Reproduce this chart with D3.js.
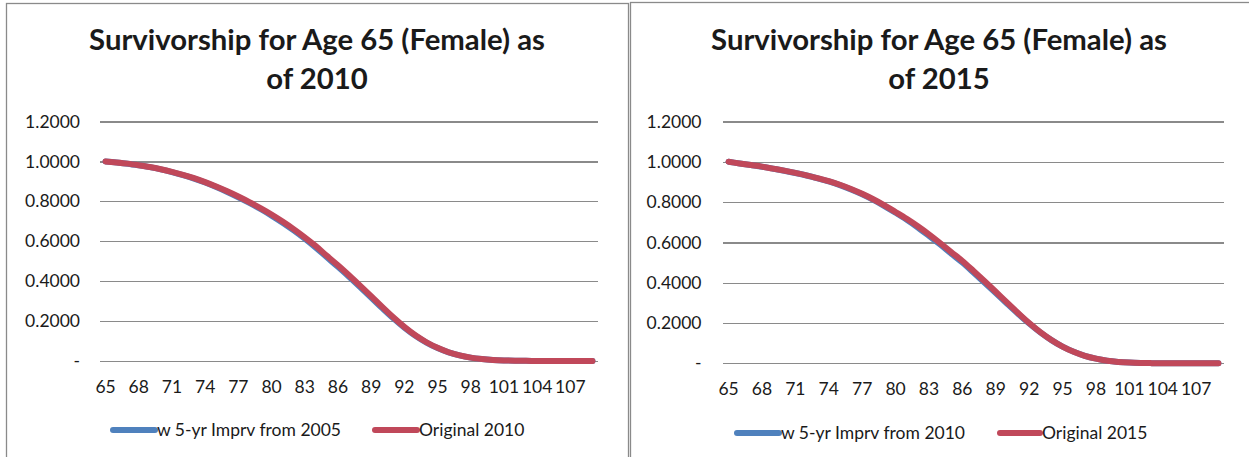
<!DOCTYPE html>
<html>
<head>
<meta charset="utf-8">
<script src="https://cdn.jsdelivr.net/npm/d3@7"></script>
<style>
  html, body { margin: 0; padding: 0; background: #fff; }
  svg { display: block; }
  text { font-family: Lato, "Noto Sans", sans-serif; fill: #1a1a1a; }
</style>
</head>
<body>
<svg id="chart" width="1249" height="457"></svg>
<script>
// Ages on the category axis
const ages = [65, 66, 67, 68, 69, 70, 71, 72, 73, 74, 75, 76, 77, 78, 79, 80, 81, 82, 83, 84, 85, 86, 87,
              88, 89, 90, 91, 92, 93, 94, 95, 96, 97, 98, 99, 100, 101, 102, 103, 104, 105, 106, 107, 108, 109];

// Labelled ages (every third category)
const xTickAges = [65, 68, 71, 74, 77, 80, 83, 86, 89, 92, 95, 98, 101, 104, 107];

// Value axis ticks and their labels
const yTicks = [0, 0.2, 0.4, 0.6, 0.8, 1.0, 1.2];
const yTickLabels = ["-", "0.2000", "0.4000", "0.6000", "0.8000", "1.0000", "1.2000"];

// Survivorship from age 65, female, as of 2010
const imprvFrom2005 = [1.0000, 0.9950, 0.9888, 0.9805, 0.9712, 0.9600, 0.9468, 0.9315, 0.9142, 0.8940, 0.8715,
                       0.8470, 0.8205, 0.7920, 0.7615, 0.7285, 0.6930, 0.6545, 0.6130, 0.5680, 0.5195, 0.4720,
                       0.4220, 0.3705, 0.3180, 0.2650, 0.2140, 0.1675, 0.1265, 0.0925, 0.0650, 0.0435, 0.0280,
                       0.0170, 0.0100, 0.0055, 0.0029, 0.0014, 0.0007, 0.0003, 0.0001, 0.0001, 0.0000, 0.0000, 0.0000];
const original2010  = [1.0000, 0.9950, 0.9890, 0.9810, 0.9720, 0.9610, 0.9480, 0.9330, 0.9160, 0.8960, 0.8740,
                       0.8500, 0.8240, 0.7960, 0.7660, 0.7340, 0.6990, 0.6610, 0.6200, 0.5760, 0.5270, 0.4800,
                       0.4300, 0.3780, 0.3250, 0.2710, 0.2190, 0.1710, 0.1290, 0.0940, 0.0660, 0.0440, 0.0280,
                       0.0170, 0.0100, 0.0055, 0.0029, 0.0014, 0.0007, 0.0003, 0.0001, 0.0001, 0.0000, 0.0000, 0.0000];

// Survivorship from age 65, female, as of 2015
const imprvFrom2010 = [1.0000, 0.9920, 0.9840, 0.9758, 0.9658, 0.9555, 0.9443, 0.9320, 0.9180, 0.9025, 0.8840,
                       0.8625, 0.8385, 0.8110, 0.7805, 0.7470, 0.7120, 0.6740, 0.6325, 0.5895, 0.5445, 0.5000,
                       0.4505, 0.4000, 0.3490, 0.2970, 0.2460, 0.1975, 0.1535, 0.1150, 0.0825, 0.0570, 0.0370,
                       0.0230, 0.0130, 0.0070, 0.0035, 0.0017, 0.0008, 0.0004, 0.0002, 0.0001, 0.0000, 0.0000, 0.0000];
const original2015  = [1.0000, 0.9920, 0.9840, 0.9760, 0.9660, 0.9560, 0.9450, 0.9330, 0.9190, 0.9040, 0.8860,
                       0.8650, 0.8410, 0.8140, 0.7840, 0.7510, 0.7170, 0.6800, 0.6400, 0.5970, 0.5520, 0.5080,
                       0.4580, 0.4070, 0.3550, 0.3020, 0.2500, 0.2000, 0.1550, 0.1160, 0.0830, 0.0570, 0.0370,
                       0.0230, 0.0130, 0.0070, 0.0035, 0.0017, 0.0008, 0.0004, 0.0002, 0.0001, 0.0000, 0.0000, 0.0000];

const BLUE = "#4f81bd";
const RED = "#c0485a";
const GRID = "#8a8a8a";

const panels = [
  {
    frame: { x: 6.5, y: 3.5, w: 622, h: 470 },
    title: ["Survivorship for Age 65 (Female) as", "of 2010"],
    titleX: 317,
    plot: { left: 100, right: 598, top: 121.5, bottom: 361 },
    labelPad: 20, xLabelPad: 20,
    series: [
      { name: "w 5-yr Imprv from 2005", values: imprvFrom2005, color: BLUE },
      { name: "Original 2010", values: original2010, color: RED }
    ],
    legend: { y: 430, items: [{ x0: 113, x1: 155 }, { x0: 375, x1: 417 }] }
  },
  {
    frame: { x: 630.5, y: 2.5, w: 640, h: 470 },
    title: ["Survivorship for Age 65 (Female) as", "of 2015"],
    titleX: 939,
    plot: { left: 723, right: 1224, top: 121.5, bottom: 363.3 },
    labelPad: 21.5, xLabelPad: 19,
    series: [
      { name: "w 5-yr Imprv from 2010", values: imprvFrom2010, color: BLUE },
      { name: "Original 2015", values: original2015, color: RED }
    ],
    legend: { y: 433, items: [{ x0: 737, x1: 779 }, { x0: 1000, x1: 1040 }] }
  }
];

const svg = d3.select("#chart");
const TITLE_WIDTH = 456;

panels.forEach(p => {
  const g = svg.append("g");

  // chart frame
  g.append("rect")
    .attr("x", p.frame.x).attr("y", p.frame.y)
    .attr("width", p.frame.w).attr("height", p.frame.h)
    .attr("fill", "#fff").attr("stroke", GRID).attr("stroke-width", 1.3);

  // two-line bold title, first line fitted to its width
  const t1 = g.append("text")
    .attr("x", p.titleX).attr("y", 50)
    .attr("text-anchor", "middle")
    .style("font-weight", "bold").style("font-size", "100px")
    .text(p.title[0]);
  const fs = 100 * TITLE_WIDTH / t1.node().getComputedTextLength();
  t1.style("font-size", fs + "px");
  g.append("text")
    .attr("x", p.titleX).attr("y", 89)
    .attr("text-anchor", "middle")
    .style("font-weight", "bold").style("font-size", fs + "px")
    .text(p.title[1]);

  const x = d3.scaleBand().domain(ages).range([p.plot.left, p.plot.right]).paddingInner(0).paddingOuter(0);
  const cx = a => x(a) + x.bandwidth() / 2;
  const y = d3.scaleLinear().domain([0, 1.2]).range([p.plot.bottom, p.plot.top]);
  const width = p.plot.right - p.plot.left;

  // horizontal gridlines
  const grid = g.append("g")
    .attr("transform", `translate(${p.plot.left},0)`)
    .call(d3.axisLeft(y).tickValues(yTicks).tickSize(-width).tickFormat(""));
  grid.select(".domain").remove();
  grid.selectAll("line").attr("stroke", GRID).attr("stroke-width", 1.2)
    .attr("shape-rendering", "crispEdges");

  // value axis labels
  const yAxis = g.append("g")
    .attr("transform", `translate(${p.plot.left},0)`)
    .call(d3.axisLeft(y).tickValues(yTicks).tickSize(0).tickPadding(p.labelPad)
      .tickFormat((d, i) => yTickLabels[i]));
  yAxis.select(".domain").remove();
  yAxis.selectAll("text").style("font-size", "17.5px").style("font-family", "Lato, sans-serif").attr("fill", "#1a1a1a");

  // category axis labels
  const xAxis = g.append("g")
    .attr("transform", `translate(0,${p.plot.bottom})`)
    .call(d3.axisBottom(x).tickValues(xTickAges).tickSize(0).tickPadding(p.xLabelPad));
  xAxis.select(".domain").remove();
  xAxis.selectAll("text").style("font-size", "17.5px").style("font-family", "Lato, sans-serif").attr("fill", "#1a1a1a");

  // survivorship lines
  const line = d3.line()
    .x((d, i) => cx(ages[i]))
    .y(d => y(d))
    .curve(d3.curveMonotoneX);
  p.series.forEach(s => {
    g.append("path")
      .datum(s.values)
      .attr("d", line)
      .attr("fill", "none")
      .attr("stroke", s.color)
      .attr("stroke-width", 6)
      .attr("stroke-linecap", "round")
      .attr("stroke-linejoin", "round");
  });

  // legend
  p.series.forEach((s, i) => {
    const it = p.legend.items[i];
    g.append("line")
      .attr("x1", it.x0).attr("x2", it.x1)
      .attr("y1", p.legend.y).attr("y2", p.legend.y)
      .attr("stroke", s.color).attr("stroke-width", 6).attr("stroke-linecap", "round");
    g.append("text")
      .attr("x", it.x1 + 2).attr("y", p.legend.y)
      .attr("dy", "0.35em")
      .style("font-size", "17.5px")
      .text(s.name);
  });
});
</script>
</body>
</html>
